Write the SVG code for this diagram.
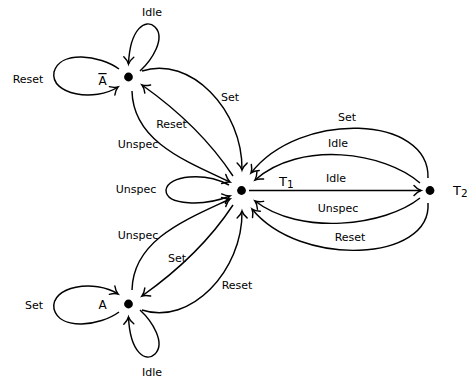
<svg xmlns="http://www.w3.org/2000/svg" width="467" height="379" viewBox="0 0 467 379">
<style>
.e{fill:none;stroke:#000;stroke-width:1.45;marker-end:url(#arr)}
.l{font-family:"DejaVu Sans",sans-serif;font-size:11px;fill:#000;text-anchor:middle}
.n{font-family:"DejaVu Sans",sans-serif;font-size:12px;fill:#000;text-anchor:middle}
.t{font-family:"DejaVu Sans",sans-serif;font-size:13px;fill:#000}
.d{fill:#000}
</style>
<defs>
<marker id="arr" viewBox="-8 -6 10 12" markerWidth="10" markerHeight="12" refX="0" refY="0" orient="auto" markerUnits="userSpaceOnUse" overflow="visible">
<path d="M-7,-5 C-4.5,-2.2 -1.6,-0.5 0,0 C-1.6,0.5 -4.5,2.2 -7,5" fill="none" stroke="#000" stroke-width="1.45" stroke-linecap="round"/>
</marker>
</defs>
<rect width="467" height="379" fill="#fff"/>
<g id="connectors">
<path class="e" d="M140,71 C152,60 166,38 155,27 C146,18 130,28 128.5,64"/>
<path class="e" d="M119,69 C100,55 60,50 54,72 C50,95 95,102 118,87"/>
<path class="e" d="M142,71 C190,55 243,110 242,170"/>
<path class="e" d="M233,176 Q200,126 142,85"/>
<path class="e" d="M132,91 C133,141 185,161 230,182"/>
<path class="e" d="M229,185 C205,172 168,175 166,190 C166,206 205,206 230,196"/>
<path class="e" d="M132,290 C133,240 185,220 230,199"/>
<path class="e" d="M233,205 Q200,255 142,296"/>
<path class="e" d="M142,310 C190,326 243,271 242,211"/>
<path class="e" d="M119,312 C100,326 60,331 54,309 C50,286 95,279 118,294"/>
<path class="e" d="M140,310 C152,321 166,343 155,354 C146,363 130,353 128.5,317"/>
<path class="e" d="M428,178 C430,115 300,110 251,173"/>
<path class="e" d="M420,183 C385,152 300,140 255,180"/>
<path class="e" d="M249,190.5 L421,190.5"/>
<path class="e" d="M420,198 C385,226 300,236 255,201"/>
<path class="e" d="M428,203 C432,262 300,268 252,209"/>
<text class="l" x="152" y="16">Idle</text>
<text class="l" x="28" y="82.5">Reset</text>
<text class="l" x="230" y="101">Set</text>
<text class="l" x="171.5" y="128">Reset</text>
<text class="l" x="138" y="147.5">Unspec</text>
<text class="l" x="136" y="193">Unspec</text>
<text class="l" x="138" y="239">Unspec</text>
<text class="l" x="177" y="262">Set</text>
<text class="l" x="237" y="289">Reset</text>
<text class="l" x="34" y="309">Set</text>
<text class="l" x="152" y="376">Idle</text>
<text class="l" x="347" y="121">Set</text>
<text class="l" x="338" y="147">Idle</text>
<text class="l" x="336" y="182">Idle</text>
<text class="l" x="338" y="212">Unspec</text>
<text class="l" x="350" y="241">Reset</text>
</g>
<g id="node-Abar">
<circle class="d" cx="128.5" cy="77" r="4.4"/>
<text class="n" x="102.5" y="85" style="text-decoration:overline">A</text>
</g>
<g id="node-T1">
<circle class="d" cx="241.5" cy="190.5" r="4.4"/>
<text class="t" x="279" y="186">T<tspan font-size="10.5" dy="2">1</tspan></text>
</g>
<g id="node-T2">
<circle class="d" cx="430" cy="190.5" r="4.4"/>
<text class="t" x="453" y="195">T<tspan font-size="10.5" dy="2">2</tspan></text>
</g>
<g id="node-A">
<circle class="d" cx="128.5" cy="304" r="4.4"/>
<text class="n" x="102.5" y="309">A</text>
</g>
</svg>
